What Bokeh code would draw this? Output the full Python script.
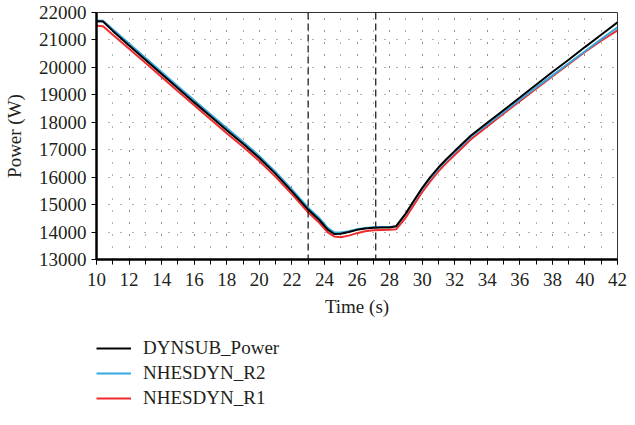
from bokeh.plotting import figure
from bokeh.layouts import column
from bokeh.models import SingleIntervalTicker, Span, Legend, LegendItem
from bokeh.embed import file_html
from bokeh.resources import INLINE

# ---- data ----
time_s = [10, 10.4, 11, 12, 13, 14, 15, 16, 17, 18, 19, 20, 21, 22, 23, 23.7, 24.2, 24.6,
          25, 25.5, 26, 26.5, 27, 27.5, 28, 28.4, 29, 29.5, 30, 30.5, 31, 31.5, 32, 33,
          34, 35, 36, 37, 38, 39, 40, 41, 42]

dynsub_power = [21680, 21670, 21330, 20800, 20280, 19760, 19240, 18725, 18220, 17710,
                17220, 16700, 16120, 15480, 14820, 14430, 14090, 13930, 13940, 14000,
                14080, 14130, 14160, 14165, 14170, 14210, 14680, 15150, 15600, 16000,
                16350, 16660, 16950, 17520, 17980, 18440, 18900, 19370, 19830, 20280,
                20740, 21190, 21640]

nhesdyn_r2 = [21710, 21700, 21390, 20870, 20350, 19830, 19310, 18800, 18290, 17790,
              17290, 16770, 16190, 15550, 14890, 14500, 14150, 13990, 13985, 14030,
              14100, 14150, 14175, 14180, 14185, 14215, 14670, 15130, 15570, 15960,
              16310, 16620, 16910, 17470, 17920, 18370, 18820, 19270, 19710, 20150,
              20590, 21030, 21460]

nhesdyn_r1 = [21520, 21500, 21190, 20680, 20170, 19650, 19130, 18620, 18110, 17600,
              17110, 16590, 16010, 15380, 14720, 14330, 13990, 13840, 13810, 13870,
              13960, 14030, 14065, 14075, 14085, 14100, 14530, 15000, 15450, 15850,
              16210, 16520, 16810, 17380, 17850, 18310, 18770, 19220, 19670, 20120,
              20560, 20970, 21350]

event_times = [23, 27.15]
series_labels = ["DYNSUB_Power", "NHESDYN_R2", "NHESDYN_R1"]
series_values = [dynsub_power, nhesdyn_r2, nhesdyn_r1]
series_colors = ["black", "#35a8e0", "#ef2b2d"]

FONT = "Liberation Serif"
TXT = "#231f20"

p = figure(width=627, height=330, x_range=(10, 42), y_range=(13000, 22000),
           output_backend="svg", toolbar_location=None,
           min_border_left=96, min_border_right=10, min_border_top=12,
           min_border_bottom=71, background_fill_color="white",
           border_fill_color="white")

p.outline_line_color = "#333333"
p.outline_line_width = 1

# axes
p.xaxis.ticker = SingleIntervalTicker(interval=2, num_minor_ticks=2)
p.yaxis.ticker = SingleIntervalTicker(interval=1000, num_minor_ticks=2)
for ax in (p.xaxis[0], p.yaxis[0]):
    ax.axis_line_width = 2.5
    ax.axis_line_color = "black"
    ax.major_tick_line_color = "black"
    ax.major_tick_in = 0
    ax.major_tick_out = 5
    ax.major_label_text_font = FONT
    ax.major_label_text_font_size = "19px"
    ax.major_label_text_color = TXT
    ax.axis_label_text_font = FONT
    ax.axis_label_text_font_size = "19px"
    ax.axis_label_text_font_style = "normal"
    ax.axis_label_text_color = TXT

p.xaxis.major_label_standoff = 8
p.yaxis.major_label_standoff = 5
p.xaxis.minor_tick_line_color = "black"
p.xaxis.minor_tick_in = 0
p.xaxis.minor_tick_out = 5
p.yaxis.minor_tick_line_color = None
p.xaxis.axis_label = "Time (s)"
p.yaxis.axis_label = "Power (W)"
p.xaxis.axis_label_standoff = 7
p.yaxis.axis_label_standoff = 11

# dotted grid: every 1 s vertically, every 1000 W horizontally
for g in (p.xgrid[0], p.ygrid[0]):
    g.grid_line_color = "#666666"
    g.grid_line_dash = "1 11"
    g.grid_line_width = 1
p.xgrid.minor_grid_line_color = "#666666"
p.xgrid.minor_grid_line_dash = "1 11"
p.xgrid.minor_grid_line_width = 1

# event markers
for t in event_times:
    p.add_layout(Span(location=t, dimension="height", line_color="#222222",
                      line_dash="7 4", line_width=1.3))

# draw red first, black last (on top)
for vals, col in list(zip(series_values, series_colors))[::-1]:
    p.line(time_s, vals, line_color=col, line_width=2)

# ---- legend strip below the chart (its lines lie outside its view) ----
lg = figure(width=627, height=79, x_range=(0, 1), y_range=(0, 1),
            output_backend="svg", toolbar_location=None,
            x_axis_type=None, y_axis_type=None,
            min_border=0, outline_line_color=None,
            background_fill_color="white", border_fill_color="white")
lg.xgrid.visible = False
lg.ygrid.visible = False
items = []
for lab, vals, col in zip(series_labels, series_values, series_colors):
    r = lg.line(time_s, vals, line_color=col, line_width=2)
    items.append(LegendItem(label=lab, renderers=[r]))

legend = Legend(items=items, location=(0, 0), orientation="vertical",
                border_line_color=None, background_fill_alpha=0,
                padding=0, margin=0, spacing=3,
                glyph_width=35, glyph_height=20, label_height=20,
                label_standoff=12, label_text_font=FONT,
                label_text_font_size="19px", label_text_color=TXT)
lg.add_layout(legend, "center")

page = column(p, lg, spacing=0)
open("out.html", "w").write(file_html(page, INLINE))
